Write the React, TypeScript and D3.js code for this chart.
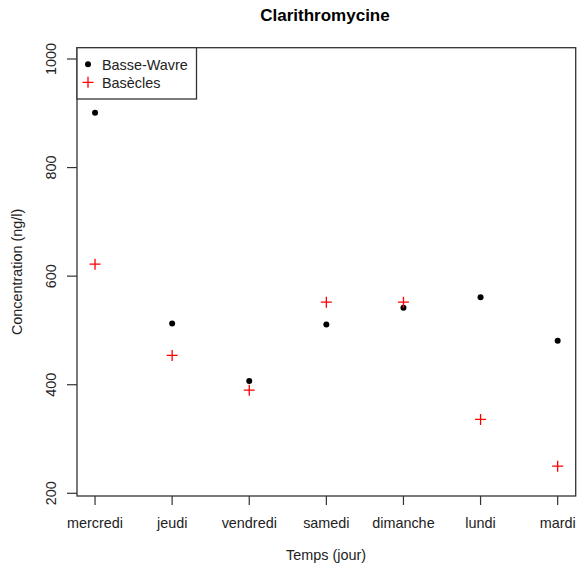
import React from "react";
import * as d3 from "d3";

const days = ["mercredi", "jeudi", "vendredi", "samedi", "dimanche", "lundi", "mardi"];
const basseWavre = [901, 513, 407, 511, 542, 561, 481];
const basecles = [622, 454, 390, 552, 552, 336, 250];
const yTicks = [200, 400, 600, 800, 1000];
const seriesNames = ["Basse-Wavre", "Basècles"];

const W = 581;
const H = 571;
const left = 77;
const right = 575.7;
const top = 47.7;
const bottom = 496;
const font = "'Liberation Sans', Arial, sans-serif";

export default function App() {
  const x = d3.scaleLinear().domain([0.766, 7.234]).range([left, right]);
  const y = d3.scaleLinear().domain([200, 1000]).range([493.3, 59]);
  const plusPath = (cx: number, cy: number, s = 5.5) =>
    `M${cx - s},${cy}H${cx + s}M${cx},${cy - s}V${cy + s}`;

  return (
    <svg
      width={W}
      height={H}
      style={{ position: "absolute", left: 0, top: 0, background: "#fff" }}
      fontFamily={font}
    >
      <rect x={0} y={0} width={W} height={H} fill="#fff" />
      <text x={325} y={21} textAnchor="middle" fontSize={17} fontWeight="bold" fill="#000">
        Clarithromycine
      </text>
      {/* plot box */}
      <rect x={left} y={top} width={right - left} height={bottom - top} fill="none" stroke="#333" strokeWidth={1.3} />
      {/* y axis */}
      {yTicks.map((t) => (
        <g key={t}>
          <line x1={67} x2={left} y1={y(t)} y2={y(t)} stroke="#333" strokeWidth={1.2} />
          <text
            transform={`translate(55.5,${y(t)}) rotate(-90)`}
            textAnchor="middle"
            fontSize={14.4}
            fill="#222"
          >
            {t}
          </text>
        </g>
      ))}
      {/* x axis */}
      {days.map((d, i) => (
        <g key={d}>
          <line x1={x(i + 1)} x2={x(i + 1)} y1={bottom} y2={505} stroke="#333" strokeWidth={1.2} />
          <text x={x(i + 1)} y={527.5} textAnchor="middle" fontSize={14.4} fill="#222">
            {d}
          </text>
        </g>
      ))}
      <text x={326} y={560} textAnchor="middle" fontSize={14.4} fill="#222">
        Temps (jour)
      </text>
      <text
        transform={`translate(22,${(top + bottom) / 2}) rotate(-90)`}
        textAnchor="middle"
        fontSize={14.4}
        fill="#222"
      >
        Concentration (ng/l)
      </text>
      {/* points */}
      {basseWavre.map((v, i) => (
        <circle key={"b" + i} cx={x(i + 1)} cy={y(v)} r={3} fill="#000" />
      ))}
      {basecles.map((v, i) => (
        <path key={"r" + i} d={plusPath(x(i + 1), y(v))} stroke="#ff0000" strokeWidth={1.3} fill="none" />
      ))}
      {/* legend */}
      <rect x={left} y={top} width={196.5 - left} height={99 - top} fill="#fff" stroke="#333" strokeWidth={1.3} />
      <circle cx={88} cy={64.3} r={3} fill="#000" />
      <path d={plusPath(88, 82.3)} stroke="#ff0000" strokeWidth={1.3} fill="none" />
      <text x={102} y={69.5} fontSize={14.4} fill="#222">
        {seriesNames[0]}
      </text>
      <text x={102} y={87.5} fontSize={14.4} fill="#222">
        {seriesNames[1]}
      </text>
    </svg>
  );
}
